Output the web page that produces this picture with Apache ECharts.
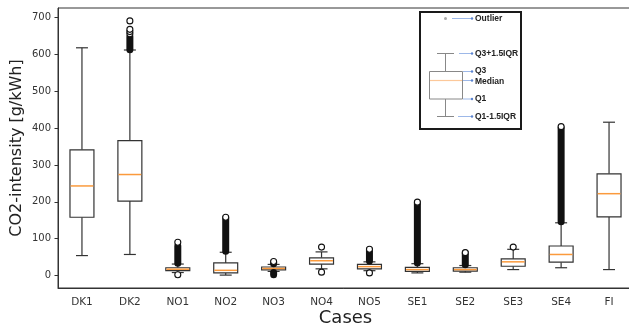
<!DOCTYPE html>
<html>
<head>
<meta charset="utf-8">
<script src="https://cdn.jsdelivr.net/npm/echarts@6/dist/echarts.min.js"></script>
<style>
  html, body { margin: 0; padding: 0; background: #fff; }
  #chart { width: 629px; height: 331px; }
</style>
</head>
<body>
<div id="chart"></div>
<script>
// box statistics per case (g/kWh)
var categories = ['DK1', 'DK2', 'NO1', 'NO2', 'NO3', 'NO4', 'NO5', 'SE1', 'SE2', 'SE3', 'SE4', 'FI'];
var whiskerLow = [54, 57, 8, 1, 11, 18, 13, 7, 9, 16, 21, 16];
var q1 = [158, 202, 13, 7, 15, 31, 18, 11, 12, 25, 36, 159];
var median = [243, 274, 17, 14, 19, 40, 24, 16, 16, 37, 57, 222];
var q3 = [341, 366, 21, 34, 23, 48, 30, 22, 21, 45, 80, 276];
var whiskerHigh = [618, 612, 31, 63, 30, 64, 37, 32, 27, 71, 143, 416];
// dense runs of outliers: [case index, from, to]
var outlierBands = [[1, 613, 648], [2, 33, 80], [3, 66, 156], [4, 32, 36], [4, 2, 8],
  [6, 39, 70], [7, 34, 197], [8, 29, 61], [10, 146, 400]];
// single outliers: [case index, value]
var outliers = [[1, 656], [1, 662], [1, 668], [1, 691], [2, 90], [2, 2], [3, 158],
  [4, 38], [5, 77], [5, 9], [6, 71], [6, 7], [7, 199], [8, 62], [9, 77], [10, 404]];
var yTicks = [0, 100, 200, 300, 400, 500, 600, 700];

var myChart = echarts.init(document.getElementById('chart'));

var boxData = categories.map(function(c, i) {
	return [i, whiskerLow[i], q1[i], median[i], q3[i], whiskerHigh[i]];
});

var font = 'DejaVu Sans';

function renderBox(params, api) {
	var i = api.value(0);
	var band = api.size([1, 0])[0];
	var half = band * 0.25, cap = band * 0.125;
	var pLow = api.coord([i, api.value(1)]);
	var pQ1 = api.coord([i, api.value(2)]);
	var pMed = api.coord([i, api.value(3)]);
	var pQ3 = api.coord([i, api.value(4)]);
	var pHigh = api.coord([i, api.value(5)]);
	var cx = pQ1[0];
	var line = { stroke: '#333', lineWidth: 1.2 };
	return {
		type: 'group',
		children: [
			{ type: 'line', shape: { x1: cx, y1: pQ1[1], x2: cx, y2: pLow[1] }, style: line },
			{ type: 'line', shape: { x1: cx, y1: pQ3[1], x2: cx, y2: pHigh[1] }, style: line },
			{ type: 'line', shape: { x1: cx - cap, y1: pLow[1], x2: cx + cap, y2: pLow[1] }, style: line },
			{ type: 'line', shape: { x1: cx - cap, y1: pHigh[1], x2: cx + cap, y2: pHigh[1] }, style: line },
			{ type: 'rect', shape: { x: cx - half, y: pQ3[1], width: half * 2, height: pQ1[1] - pQ3[1] },
				style: { fill: '#fff', stroke: '#333', lineWidth: 1.2 } },
			{ type: 'line', shape: { x1: cx - half + 0.6, y1: pMed[1], x2: cx + half - 0.6, y2: pMed[1] },
				style: { stroke: '#fb9a3c', lineWidth: 1.5 } }
		]
	};
}

function renderBand(params, api) {
	var i = api.value(0);
	var top = api.coord([i, api.value(2)]);
	var bottom = api.coord([i, api.value(1)]);
	return {
		type: 'rect',
		shape: { x: top[0] - 3.5, y: top[1] - 3.5, width: 7, height: bottom[1] - top[1] + 7, r: 3.5 },
		style: { fill: '#111' }
	};
}

// legend inset (explanation of the box)
var lx = 420, ly = 12;
var blue = '#9db8e8', blueDot = '#5b84d0';
function pointer(x1, x2, y) {
	return [
		{ type: 'line', shape: { x1: x1, y1: y, x2: x2, y2: y }, style: { stroke: blue, lineWidth: 1 } },
		{ type: 'circle', shape: { cx: x2, cy: y, r: 1.2 }, style: { fill: blueDot } }
	];
}
function label(text, y) {
	return { type: 'text', x: 475, y: y, style: { text: text, font: 'bold 8.5px "Liberation Sans"', fill: '#222', verticalAlign: 'middle' } };
}
var legendChildren = [
	{ type: 'rect', shape: { x: lx, y: ly, width: 101, height: 117 }, style: { fill: '#fff', stroke: '#1a1a1a', lineWidth: 2 } },
	{ type: 'circle', shape: { cx: 445.5, cy: 18.5, r: 1.5 }, style: { fill: '#aaa' } },
	{ type: 'line', shape: { x1: 437, y1: 53.5, x2: 454, y2: 53.5 }, style: { stroke: '#888', lineWidth: 1 } },
	{ type: 'line', shape: { x1: 445.5, y1: 53.5, x2: 445.5, y2: 71.5 }, style: { stroke: '#888', lineWidth: 1 } },
	{ type: 'rect', shape: { x: 429.5, y: 71.5, width: 33, height: 27.5 }, style: { fill: '#fff', stroke: '#888', lineWidth: 1 } },
	{ type: 'line', shape: { x1: 430, y1: 80.5, x2: 462, y2: 80.5 }, style: { stroke: '#fcc89a', lineWidth: 1.2 } },
	{ type: 'line', shape: { x1: 445.5, y1: 99, x2: 445.5, y2: 116.5 }, style: { stroke: '#888', lineWidth: 1 } },
	{ type: 'line', shape: { x1: 437, y1: 116.5, x2: 454, y2: 116.5 }, style: { stroke: '#888', lineWidth: 1 } },
	label('Outlier', 18.5), label('Q3+1.5IQR', 53.5), label('Q3', 71),
	label('Median', 81.5), label('Q1', 99), label('Q1-1.5IQR', 116.5)
].concat(pointer(452, 472, 18.5), pointer(459, 472, 53.5), pointer(463, 472, 71.5),
	pointer(463, 472, 80.5), pointer(463, 472, 99), pointer(458, 472, 116.5));

var option = {
	animation: false,
	grid: {
		left: 58, top: 8, width: 575, height: 280,
		outerBoundsMode: 'none',
		containLabel: false,
		show: true, borderColor: '#333', borderWidth: 1, backgroundColor: '#fff'
	},
	xAxis: {
		type: 'category',
		data: categories,
		boundaryGap: true,
		name: 'Cases',
		nameLocation: 'middle',
		nameGap: 21,
		nameMoveOverlap: false,
		nameTextStyle: { fontFamily: font, fontSize: 18, color: '#222', verticalAlign: 'top' },
		axisLine: { show: true, onZero: false, lineStyle: { color: '#333' } },
		axisTick: { alignWithLabel: true, length: 3.5, lineStyle: { color: '#333' } },
		axisLabel: { fontFamily: font, fontSize: 10.5, color: '#333', margin: 9 },
		splitLine: { show: false }
	},
	yAxis: {
		type: 'value',
		min: -34,
		max: 726,
		name: 'CO2-intensity [g/kWh]',
		nameLocation: 'middle',
		nameGap: 33,
		nameMoveOverlap: false,
		nameTextStyle: { fontFamily: font, fontSize: 16, color: '#222', verticalAlign: 'bottom' },
		axisLine: { show: true, lineStyle: { color: '#333' } },
		axisTick: { show: true, length: 3.5, customValues: yTicks, lineStyle: { color: '#333' } },
		axisLabel: { fontFamily: font, fontSize: 10, color: '#333', margin: 7, customValues: yTicks },
		splitLine: { show: false }
	},
	series: [
		{
			type: 'custom',
			renderItem: renderBox,
			encode: { x: 0, y: [1, 2, 3, 4, 5] },
			data: boxData,
			z: 2
		},
		{
			type: 'custom',
			renderItem: renderBand,
			encode: { x: 0, y: [1, 2] },
			data: outlierBands,
			z: 3
		},
		{
			type: 'scatter',
			data: outliers,
			symbol: 'circle',
			symbolSize: 6,
			itemStyle: { color: '#fff', borderColor: '#111', borderWidth: 1.1, opacity: 1 },
			z: 4
		}
	],
	graphic: [{ type: 'group', z: 100, children: legendChildren }]
};
myChart.setOption(option);
</script>
</body>
</html>
